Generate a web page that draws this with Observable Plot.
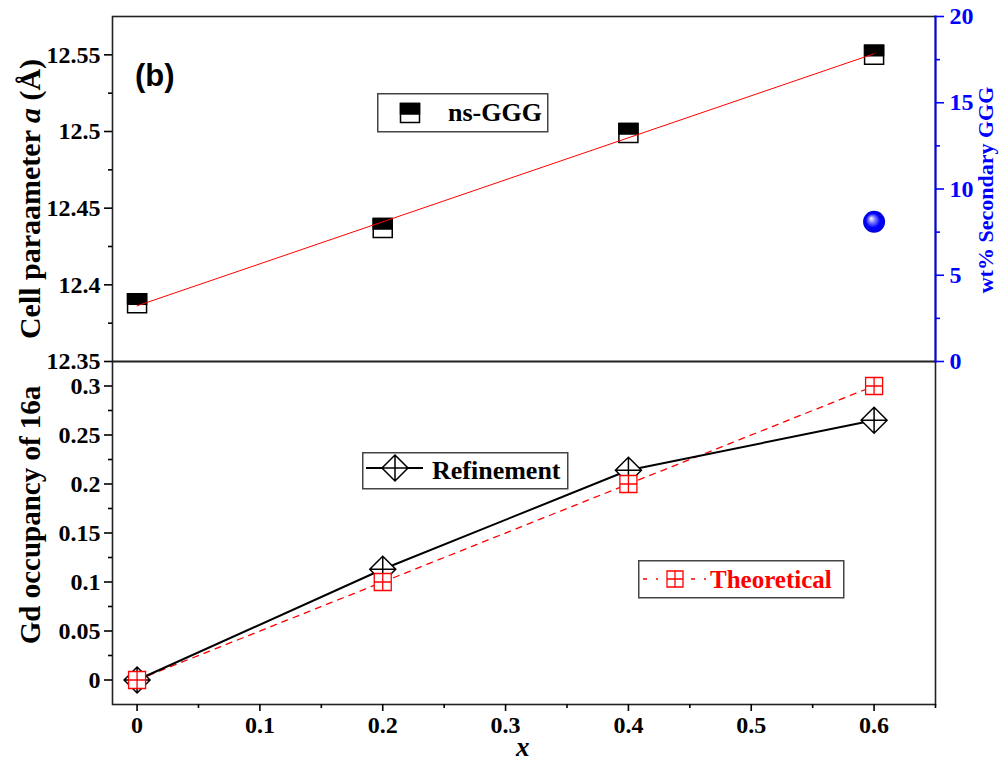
<!DOCTYPE html>
<html><head><meta charset="utf-8">
<script src="https://cdn.jsdelivr.net/npm/d3@7"></script>
<script src="https://cdn.jsdelivr.net/npm/@observablehq/plot@0.6"></script>
<style>
body{margin:0;background:#fff;}
#wrap{position:relative;width:999px;height:763px;overflow:hidden;font-family:"Liberation Serif","Times New Roman",Tinos,"DejaVu Serif",serif;font-weight:bold;background:#fff;}
#wrap svg{position:absolute;left:0;}
#wrap svg text{font-family:"Liberation Serif","Times New Roman",Tinos,"DejaVu Serif",serif;}
.rot{position:absolute;white-space:nowrap;transform:translate(-50%,-50%) rotate(-90deg);line-height:1;}
.lbl{position:absolute;white-space:nowrap;line-height:1;}
.leg{position:absolute;}
</style></head><body><div id="wrap"></div>
<script>
// ---- data ----
const xValues = [0, 0.2, 0.4, 0.6];
const cellParam = [12.388, 12.437, 12.499, 12.550];
const secondaryX = [0.6];
const secondaryWt = [8.1];
const refinement = [0, 0.113, 0.214, 0.265];
const theoretical = [0, 0.1, 0.2, 0.3];
const xTicks = [0, 0.1, 0.2, 0.3, 0.4, 0.5, 0.6];
const xMinor = [0.05, 0.15, 0.25, 0.35, 0.45, 0.55, 0.65];
const aTicks = [12.35, 12.4, 12.45, 12.5, 12.55];
const aMinor = [12.375, 12.425, 12.475, 12.525];
const wtTicks = [0, 5, 10, 15, 20];
const wtMinor = [2.5, 7.5, 12.5, 17.5];
const occTicks = [0, 0.05, 0.1, 0.15, 0.2, 0.25, 0.3];
const occMinor = [0.025, 0.075, 0.125, 0.175, 0.225, 0.275];

// ---- symbols ----
const rOf = s => Math.sqrt(s / Math.PI);
const squareSym = {draw(c, s){const r=rOf(s); c.moveTo(-r,-r); c.lineTo(r,-r); c.lineTo(r,r); c.lineTo(-r,r); c.closePath();}};
const halfTop = {draw(c, s){const r=rOf(s); c.moveTo(-r,-r); c.lineTo(r,-r); c.lineTo(r,0.1*r); c.lineTo(-r,0.1*r); c.closePath();}};
const diamondCross = {draw(c, s){const r=rOf(s); c.moveTo(0,-r); c.lineTo(r,0); c.lineTo(0,r); c.lineTo(-r,0); c.closePath(); c.moveTo(0,-r); c.lineTo(0,r); c.moveTo(-r,0); c.lineTo(r,0);}};
const squareCross = {draw(c, s){const r=rOf(s); c.moveTo(-r,-r); c.lineTo(r,-r); c.lineTo(r,r); c.lineTo(-r,r); c.closePath(); c.moveTo(0,-r); c.lineTo(0,r); c.moveTo(-r,0); c.lineTo(r,0);}};

const FF = '"Liberation Serif", "Times New Roman", Tinos, "DejaVu Serif", serif';
const font = {fontFamily: FF, fontSize:"24px", fontWeight:"bold", background:"transparent", overflow:"visible"};
const W = 999, ML = 112, MR = 64;
const xDomain = [-0.02, 0.65];
const fmt = d => String(d);

const topData = xValues.map((x, i) => ({x, a: cellParam[i]}));
const topPlot = Plot.plot({
  width: W, height: 362, marginTop: 16, marginBottom: 1, marginLeft: ML, marginRight: MR,
  style: font,
  x: {domain: xDomain, axis: null},
  y: {domain: [12.35, 12.575]},
  marks: [
    Plot.frame({stroke: "#222", strokeWidth: 1.6}),
    Plot.axisY(aTicks, {tickSize: 8, tickPadding: 4, strokeWidth: 1.6, label: null, tickFormat: fmt}),
    Plot.axisY(aMinor, {tickSize: 4, strokeWidth: 1.6, label: null, tickFormat: () => ""}),
    Plot.dot(topData, {x: "x", y: "a", symbol: squareSym, r: 9.5, fill: "white", stroke: "black", strokeWidth: 1.5}),
    Plot.dot(topData, {x: "x", y: "a", symbol: halfTop, r: 9.5, fill: "black", stroke: "black", strokeWidth: 1.5}),
    Plot.linearRegressionY(topData, {x: "x", y: "a", stroke: "red", strokeWidth: 1, ci: 0})
  ]
});
topPlot.style.top = "0px";

const sideData = secondaryX.map((x, i) => ({x, wt: secondaryWt[i]}));
const sidePlot = Plot.plot({
  width: W, height: 362, marginTop: 16, marginBottom: 1, marginLeft: ML, marginRight: MR,
  style: font,
  x: {domain: xDomain, axis: null},
  y: {domain: [0, 20]},
  marks: [
    Plot.frame({anchor: "right", stroke: "#0000ff", strokeWidth: 2}),
    Plot.axisY(wtTicks, {anchor: "right", tickSize: 8, tickPadding: 6, color: "#0000ff", strokeWidth: 1.6, label: null, tickFormat: fmt}),
    Plot.axisY(wtMinor, {anchor: "right", tickSize: 4, color: "#0000ff", strokeWidth: 1.6, label: null, tickFormat: () => ""}),
    Plot.dot(sideData, {x: "x", y: "wt", r: 11, fill: "url(#sphere)"})
  ]
});
sidePlot.style.top = "0px";
const NS = "http://www.w3.org/2000/svg";
const defs = document.createElementNS(NS, "defs");
defs.innerHTML = '<radialGradient id="sphere" cx="0.5" cy="0.5" r="0.5" fx="0.36" fy="0.34"><stop offset="0" stop-color="#ffffff"/><stop offset="0.3" stop-color="#8080ff"/><stop offset="0.65" stop-color="#0000ff"/><stop offset="1" stop-color="#0000d8"/></radialGradient>';
sidePlot.insertBefore(defs, sidePlot.firstChild);

const bottomData = xValues.map((x, i) => ({x, ref: refinement[i], th: theoretical[i]}));
const bottomPlot = Plot.plot({
  width: W, height: 403, marginTop: 1, marginBottom: 59, marginLeft: ML, marginRight: MR,
  style: font,
  x: {domain: xDomain},
  y: {domain: [-0.025, 0.325]},
  marks: [
    Plot.frame({stroke: "#222", strokeWidth: 1.6}),
    Plot.axisX(xTicks, {tickSize: 7, tickPadding: 4, strokeWidth: 1.6, label: null, tickFormat: fmt}),
    Plot.axisX(xMinor, {tickSize: 4, strokeWidth: 1.6, label: null, tickFormat: () => ""}),
    Plot.axisY(occTicks, {tickSize: 8, tickPadding: 4, strokeWidth: 1.6, label: null, tickFormat: fmt}),
    Plot.axisY(occMinor, {tickSize: 4, strokeWidth: 1.6, label: null, tickFormat: () => ""}),
    Plot.line(bottomData, {x: "x", y: "th", stroke: "red", strokeWidth: 1.3, strokeDasharray: "6,6"}),
    Plot.line(bottomData, {x: "x", y: "ref", stroke: "black", strokeWidth: 2}),
    Plot.dot(bottomData, {x: "x", y: "ref", symbol: diamondCross, r: 13, fill: "white", stroke: "black", strokeWidth: 1.5}),
    Plot.dot(bottomData, {x: "x", y: "th", symbol: squareCross, r: 8.5, fill: "white", stroke: "red", strokeWidth: 1.3})
  ]
});
bottomPlot.style.top = "360px";

const wrap = document.getElementById("wrap");
wrap.append(bottomPlot, topPlot, sidePlot);

// ---- titles & annotations ----
wrap.insertAdjacentHTML("beforeend", `
<div class="rot" style="left:30px;top:199px;font-size:30px;">Cell paraameter <i>a</i> (Å)</div>
<div class="rot" style="left:30px;top:515px;font-size:29px;">Gd occupancy of 16a</div>
<div class="rot" style="left:986px;top:190px;font-size:22px;color:#0000ff;">wt% Secondary GGG</div>
<div class="lbl" style="left:516px;top:734px;font-size:27px;"><i>x</i></div>
<div class="lbl" style="left:135px;top:60px;font-size:31px;font-family:'Liberation Sans',Arial,sans-serif;">(b)</div>
<svg class="leg" style="left:377px;top:93px" width="172" height="40">
  <rect x="0.75" y="0.75" width="170" height="38" fill="white" stroke="#444" stroke-width="1.5"/>
  <rect x="23.5" y="10.5" width="19" height="19" fill="white" stroke="black" stroke-width="1.5"/>
  <rect x="23.5" y="10.5" width="19" height="10.5" fill="black" stroke="black" stroke-width="1.5"/>
  <text x="71" y="28" font-weight="bold" font-size="26">ns-GGG</text>
</svg>
<svg class="leg" style="left:362px;top:452px" width="207" height="38">
  <rect x="0.75" y="0.75" width="205" height="36" fill="white" stroke="#444" stroke-width="1.5"/>
  <line x1="4" x2="61" y1="16" y2="16" stroke="black" stroke-width="2"/>
  <path d="M33,3L46,16L33,29L20,16Z M33,3L33,29 M20,16L46,16" fill="white" stroke="black" stroke-width="1.5"/>
  <text x="70" y="27" font-weight="bold" font-size="26">Refinement</text>
</svg>
<svg class="leg" style="left:638px;top:560px" width="207" height="39">
  <rect x="0.75" y="0.75" width="205" height="37" fill="white" stroke="#444" stroke-width="1.5"/>
  <line x1="5" x2="68" y1="19" y2="19" stroke="red" stroke-width="1.3" stroke-dasharray="4,9,2,9"/>
  <path d="M29,11H45V27H29Z M37,11V27 M29,19H45" fill="white" stroke="red" stroke-width="1.3"/>
  <text x="72" y="28" font-weight="bold" font-size="25" fill="red">Theoretical</text>
</svg>
`);
</script></body></html>
